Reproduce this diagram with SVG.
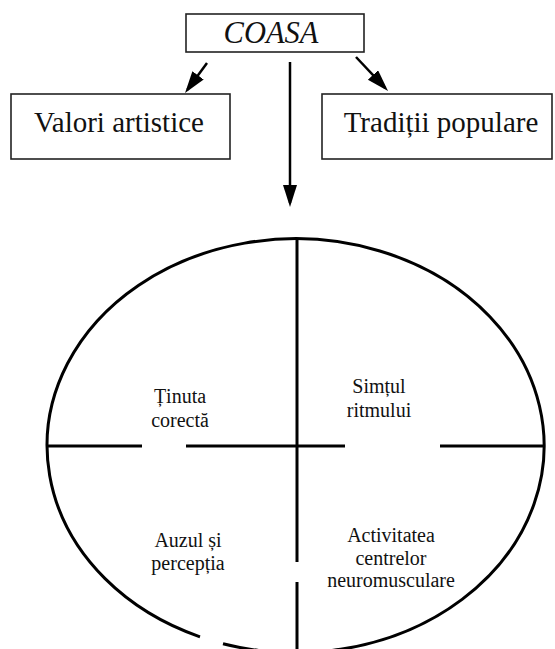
<svg xmlns="http://www.w3.org/2000/svg" width="555" height="649" viewBox="0 0 555 649">
<defs>
<style>
.box{fill:#fff;stroke:#222;stroke-width:1.6}
.t{font-family:"Liberation Serif","Times New Roman",serif;fill:#111;text-anchor:middle}
.big{font-size:29px}
.sm{font-size:20px}
.arr{stroke:#000;stroke-width:2.5;fill:none}
.ln{stroke:#000;stroke-width:3;fill:none}
</style>
<marker id="ah" markerUnits="userSpaceOnUse" markerWidth="24" markerHeight="16" refX="18" refY="7" orient="auto">
<path d="M0,0 L22,7 L0,14 z" fill="#000"/>
</marker>
</defs>
<rect width="555" height="649" fill="#fff"/>
<g id="coasa">
<rect class="box" x="186" y="14" width="178" height="38"/>
<text class="t" x="271" y="43" font-style="italic" font-size="30.5">COASA</text>
</g>
<g id="valori">
<rect class="box" x="11" y="94" width="219" height="65"/>
<text class="t big" x="119" y="132">Valori artistice</text>
</g>
<g id="traditii">
<rect class="box" x="322" y="94" width="230" height="65"/>
<text class="t big" x="441" y="132">Tradiții populare</text>
</g>
<g id="connectors">
<line class="arr" x1="207" y1="63" x2="187.4" y2="89.8" marker-end="url(#ah)"/>
<line class="arr" x1="356" y1="57" x2="385.3" y2="88.1" marker-end="url(#ah)"/>
<line class="arr" x1="290" y1="62" x2="290" y2="203" marker-end="url(#ah)"/>
</g>
<g id="cerc">
<path class="ln" d="M200 636.8 A248.5 207 0 1 1 223 643.7"/>
<path class="ln" d="M48 446 H142 M186 446 H345 M440 446 H545"/>
<path class="ln" d="M297 239 V562 M297 582 V649"/>
</g>
<g id="tinuta">
<text class="t sm" x="180" y="403">Ținuta</text>
<text class="t sm" x="180" y="427">corectă</text>
</g>
<g id="simtul">
<text class="t sm" x="379" y="393">Simțul</text>
<text class="t sm" x="379" y="417">ritmului</text>
</g>
<g id="auzul">
<text class="t sm" x="188" y="547">Auzul și</text>
<text class="t sm" x="188" y="570">percepția</text>
</g>
<g id="activitatea">
<text class="t sm" x="391" y="542">Activitatea</text>
<text class="t sm" x="391" y="565">centrelor</text>
<text class="t sm" x="391" y="587">neuromusculare</text>
</g>
</svg>
